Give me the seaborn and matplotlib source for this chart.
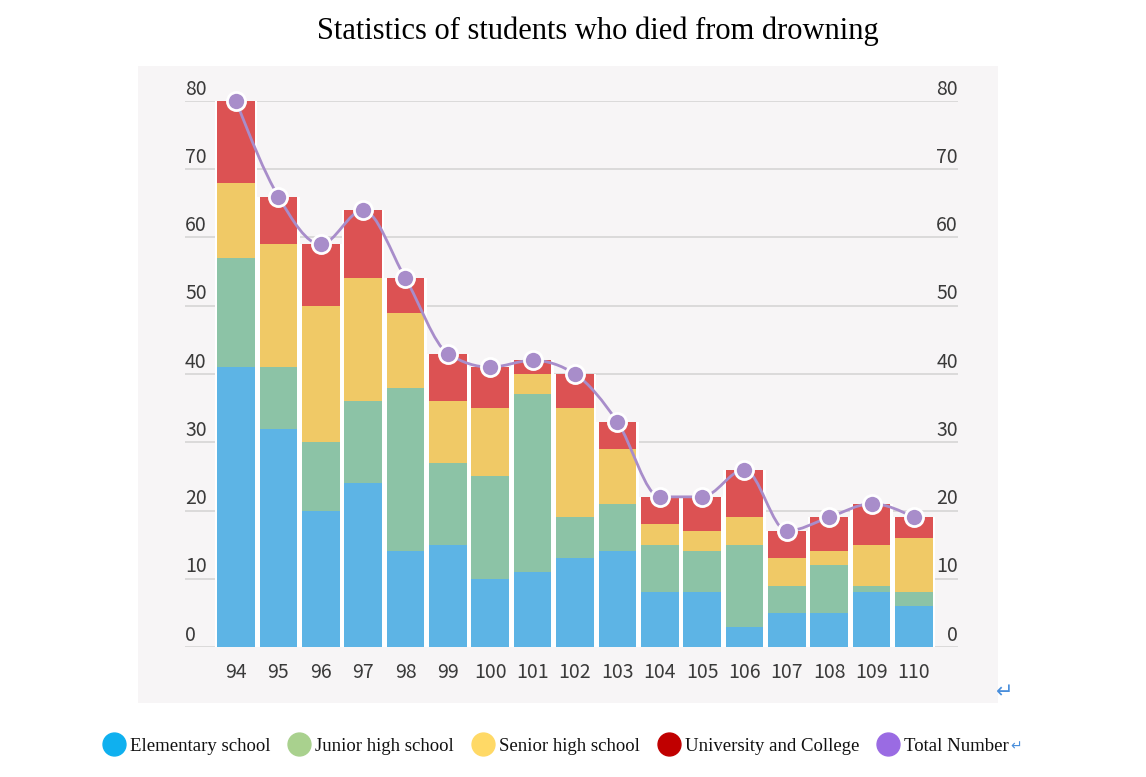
import numpy as np
import matplotlib
matplotlib.use("Agg")
import matplotlib.pyplot as plt
import seaborn as sns
from matplotlib.path import Path
from matplotlib.patches import PathPatch, Rectangle
from matplotlib.lines import Line2D
from matplotlib import transforms

# ---- data ----
years = ["94", "95", "96", "97", "98", "99", "100", "101", "102",
         "103", "104", "105", "106", "107", "108", "109", "110"]
elementary = [41, 32, 20, 24, 14, 15, 10, 11, 13, 14, 8, 8, 3, 5, 5, 8, 6]
junior = [16, 9, 10, 12, 24, 12, 15, 26, 6, 7, 7, 6, 12, 4, 7, 1, 2]
senior = [11, 18, 20, 18, 11, 9, 10, 3, 16, 8, 3, 3, 4, 4, 2, 6, 8]
university = [12, 7, 9, 10, 5, 7, 6, 2, 5, 4, 4, 5, 7, 4, 5, 6, 3]
total = [80, 66, 59, 64, 54, 43, 41, 42, 40, 33, 22, 22, 26, 17, 19, 21, 19]
y_ticks = [0, 10, 20, 30, 40, 50, 60, 70, 80]

legend_labels = ["Elementary school", "Junior high school", "Senior high school",
                 "University and College", "Total Number"]

bar_colors = ["#5db4e5", "#8cc3a6", "#f0c966", "#dc5253"]
line_color = "#a88dca"
legend_colors = ["#0fb0ef", "#a9d18e", "#ffd966", "#c00000", "#9a6be3"]

sns.set_style("white")
SANS = ["Noto Sans CJK SC", "DejaVu Sans"]
SERIF = ["Liberation Serif", "DejaVu Serif"]
plt.rcParams["font.family"] = SANS

W, H = 1146, 777
fig = plt.figure(figsize=(W / 100, H / 100), dpi=100)

# grey panel behind the chart
fig.patches.append(Rectangle((138 / W, 1 - 703 / H), (998 - 138) / W, (703 - 66) / H,
                             transform=fig.transFigure, facecolor="#f7f5f6",
                             edgecolor="none", zorder=-5))

ax = fig.add_axes([185 / W, 1 - 647 / H, (958 - 185) / W, (647 - 101) / H])
ax.set_facecolor("none")
ax.set_zorder(2)

# white backing gives the white gaps between bars
sns.barplot(x=years, y=total, color="white", width=1.0, saturation=1,
            errorbar=None, ax=ax, zorder=2, linewidth=0)

# stacked bars: draw cumulative tops, tallest first
tops = np.cumsum([elementary, junior, senior, university], axis=0)
for i in range(3, -1, -1):
    sns.barplot(x=years, y=tops[i], color=bar_colors[i], width=0.887, saturation=1,
                errorbar=None, ax=ax, zorder=3, linewidth=0)

# smooth (monotone) total line
xs = np.arange(len(total), dtype=float)
ys = np.array(total, dtype=float)
s = np.diff(ys)
m = np.zeros(len(ys))
for i in range(1, len(ys) - 1):
    if s[i - 1] * s[i] > 0:
        p = (s[i - 1] + s[i]) / 2
        m[i] = np.sign(s[i]) * min(2 * abs(s[i - 1]), 2 * abs(s[i]), abs(p))
m[0] = (3 * s[0] - m[1]) / 2
m[-1] = (3 * s[-1] - m[-2]) / 2
verts = [(xs[0], ys[0])]
codes = [Path.MOVETO]
for i in range(len(ys) - 1):
    verts += [(xs[i] + 1 / 3, ys[i] + m[i] / 3),
              (xs[i + 1] - 1 / 3, ys[i + 1] - m[i + 1] / 3),
              (xs[i + 1], ys[i + 1])]
    codes += [Path.CURVE4] * 3
ax.add_patch(PathPatch(Path(verts, codes), fill=False, edgecolor=line_color,
                       lw=2.0, zorder=4, clip_on=False))
sns.scatterplot(x=xs, y=ys, s=170, color=line_color, edgecolor="white",
                linewidth=2, zorder=5, clip_on=False, ax=ax, legend=False)

ax.set_xlim(-1.204, 17.04)
ax.set_ylim(0, 80)
ax.set_yticks(y_ticks)
ax.set_yticklabels([])
ax.grid(axis="y", color="#d8d8d8", lw=1.3, zorder=1)
ax.set_axisbelow(True)
ax.tick_params(axis="both", length=0)
ax.tick_params(axis="x", pad=11, labelsize=14, labelcolor="#3a3a3a")
ax.tick_params(axis="y", labelleft=False)
for sp in ax.spines.values():
    sp.set_visible(False)
ax.set_xlabel("")
ax.set_ylabel("")

# y labels sit just above their gridlines, on both sides
lab_tr = transforms.offset_copy(transforms.blended_transform_factory(ax.transAxes, ax.transData),
                                fig=fig, y=4.5, units="points")
for v in y_ticks:
    ax.text(0, v, str(v), transform=lab_tr, ha="left", va="baseline",
            fontsize=14, color="#3a3a3a")
    ax.text(1, v, str(v), transform=lab_tr, ha="right", va="baseline",
            fontsize=14, color="#3a3a3a")

fig.text(598 / W, 1 - 31 / H, "Statistics of students who died from drowning",
         ha="center", va="center", fontsize=22, family=SERIF, color="black")

handles = [Line2D([], [], marker="o", linestyle="", markersize=16.5,
                  markerfacecolor=c, markeredgecolor=c) for c in legend_colors]
leg = fig.legend(handles, legend_labels, loc="center", ncol=5,
                 bbox_to_anchor=(556 / W, 1 - 746 / H), frameon=False,
                 prop={"family": SERIF, "size": 13.5}, handlelength=1.15,
                 handletextpad=0.3, columnspacing=0.95, borderaxespad=0)
for t in leg.get_texts():
    t.set_color("#111111")

# word-processor return marks
fig.text(1005 / W, 1 - 692 / H, "\u21b5", ha="center", va="center",
         fontsize=15, color="#4a8fdc", family="DejaVu Sans")
fig.canvas.draw()
bb = leg.get_texts()[-1].get_window_extent()
fig.text(bb.x1 / W + 0.001, (bb.y0 + bb.y1) / 2 / H, "\u21b5", ha="left", va="center",
         fontsize=10, color="#4a8fdc", family="DejaVu Sans")

fig.savefig("out.png", dpi=100, facecolor="white")
